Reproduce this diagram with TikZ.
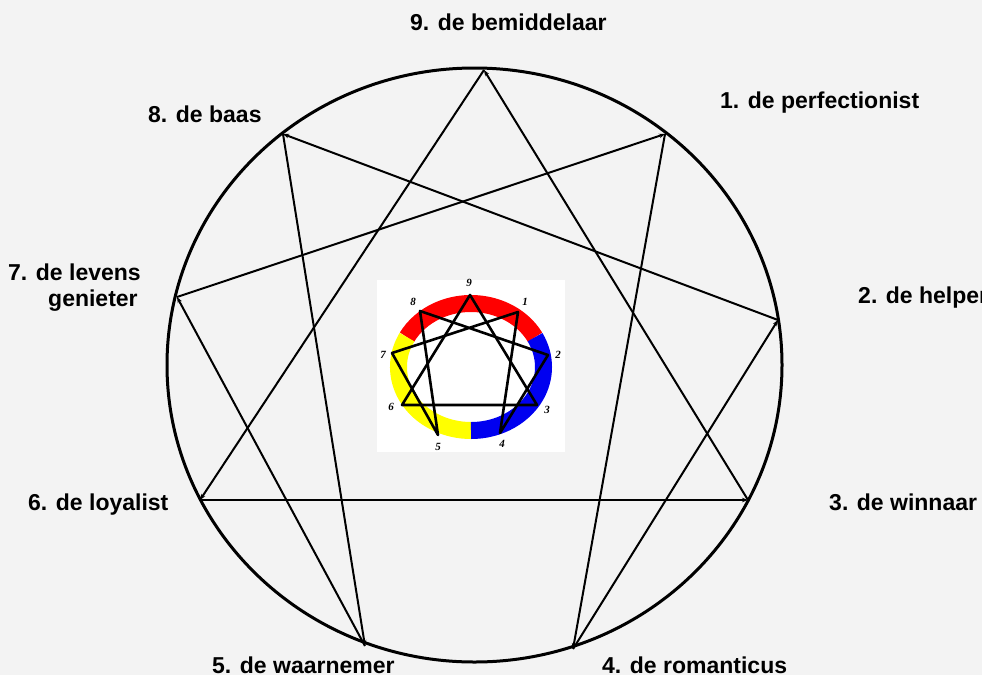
\documentclass[tikz,border=0pt]{standalone}
\usepackage{fontspec}
\setmainfont{Liberation Sans}
\newfontfamily\insetfont{Liberation Serif}
\usetikzlibrary{arrows.meta}
\definecolor{bg}{HTML}{F3F3F3}
\definecolor{ringred}{HTML}{FF0000}
\definecolor{ringyellow}{HTML}{FFFF00}
\definecolor{ringblue}{HTML}{0000F0}
\begin{document}
\begin{tikzpicture}[x=1pt,y=-1pt,
  lbl/.style={anchor=base west,inner sep=0pt,font=\fontsize{23}{25}\selectfont\bfseries},
  edge/.style={line width=2pt,-{Stealth[length=6pt,width=4.5pt]}},
  starline/.style={line width=2.6pt,line join=round},
  num/.style={inner sep=0pt,font=\insetfont\fontsize{11}{12}\selectfont\bfseries\itshape}]
\fill[bg] (0,0) rectangle (982,675);
\useasboundingbox (0,0) rectangle (982,675);
% main circle
\draw[line width=3pt] (474.5,365) ellipse [x radius=307.5pt, y radius=297pt];
% points
\coordinate (p9) at (484,70);
\coordinate (p1) at (665,134);
\coordinate (p2) at (778,320);
\coordinate (p3) at (748,500);
\coordinate (p4) at (573,649);
\coordinate (p5) at (365,646);
\coordinate (p6) at (200,500);
\coordinate (p7) at (177,297);
\coordinate (p8) at (283,134);
% triangle
\draw[edge] (p9) -- (p6);
\draw[edge] (p6) -- (p3);
\draw[edge] (p3) -- (p9);
% hexad
\draw[edge] (p1) -- (p4);
\draw[edge] (p4) -- (p2);
\draw[edge] (p2) -- (p8);
\draw[edge] (p8) -- (p5);
\draw[edge] (p5) -- (p7);
\draw[edge] (p7) -- (p1);
% labels
\node[lbl] (l9) at (410,30) {9. de bemiddelaar};
\node[lbl] (l1) at (720,108) {1. de perfectionist};
\node[lbl] (l8) at (148,122) {8. de baas};
\node[lbl] (l7a) at (8,280) {7. de levens};
\node[lbl] (l7b) at (48,306) {genieter};
\node[lbl] (l2) at (858,303) {2. de helper};
\node[lbl] (l3) at (829,510) {3. de winnaar};
\node[lbl] (l6) at (28,510) {6. de loyalist};
\node[lbl] (l5) at (212,673) {5. de waarnemer};
\node[lbl] (l4) at (602,673) {4. de romanticus};
% inset
\fill[white] (377,280) rectangle (565,452);
\coordinate (ic) at (471,367);
\draw[ringred,line width=17pt] (ic) ++(28:72.5pt and 63.5pt) arc[start angle=28,end angle=152,x radius=72.5pt,y radius=63.5pt];
\draw[ringyellow,line width=17pt] (ic) ++(152:72.5pt and 63.5pt) arc[start angle=152,end angle=270,x radius=72.5pt,y radius=63.5pt];
\draw[ringblue,line width=17pt] (ic) ++(270:72.5pt and 63.5pt) arc[start angle=270,end angle=388,x radius=72.5pt,y radius=63.5pt];
\coordinate (q9) at (470,295);
\coordinate (q1) at (518,312);
\coordinate (q2) at (548,355);
\coordinate (q3) at (537,405);
\coordinate (q4) at (500,433);
\coordinate (q5) at (438,435);
\coordinate (q6) at (402,405);
\coordinate (q7) at (392,353);
\coordinate (q8) at (420,311);
\draw[starline] (q9) -- (q3) -- (q6) -- cycle;
\draw[starline] (q1) -- (q4) -- (q2) -- (q8) -- (q5) -- (q7) -- cycle;
\node[num] (n9) at (469,283) {9};
\node[num] (n1) at (525,302) {1};
\node[num] (n2) at (558,355) {2};
\node[num] (n3) at (547,410) {3};
\node[num] (n4) at (502,444) {4};
\node[num] (n5) at (438,447) {5};
\node[num] (n6) at (391,407) {6};
\node[num] (n7) at (383,355) {7};
\node[num] (n8) at (413,302) {8};
\end{tikzpicture}
\end{document}
